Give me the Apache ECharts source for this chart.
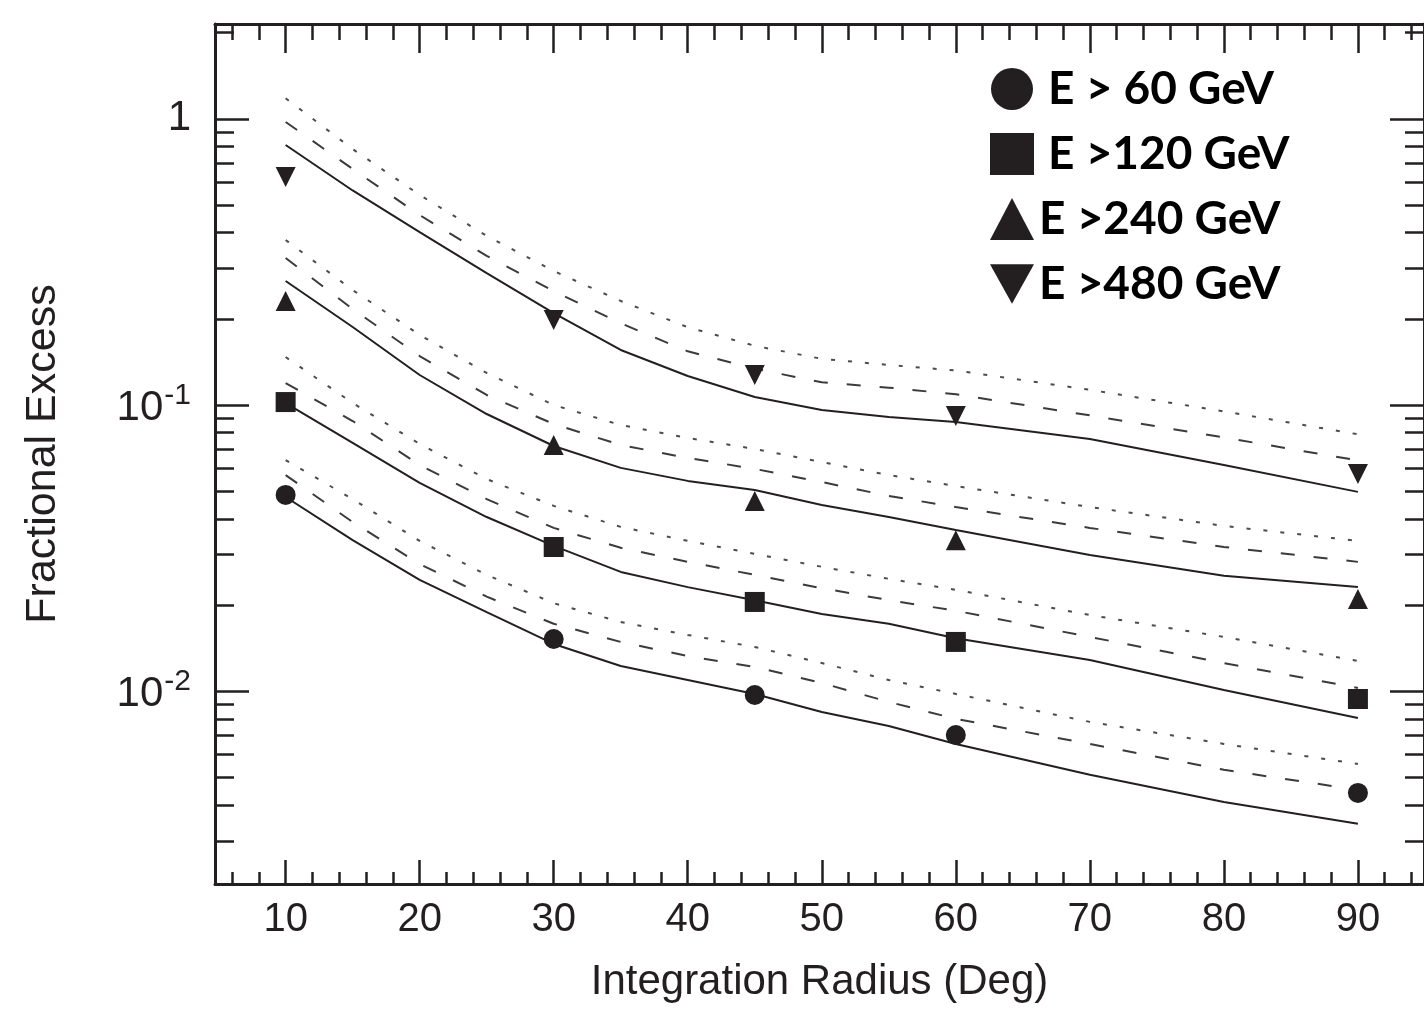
<!DOCTYPE html>
<html>
<head>
<meta charset="utf-8">
<script src="https://cdn.jsdelivr.net/npm/echarts@6/dist/echarts.min.js"></script>
<style>html,body{margin:0;padding:0;background:#fff}#c{width:1424px;height:1015px}</style>
</head>
<body>
<div id="c"></div>
<script>
// ---- data ----
const radiusModel = [10, 15, 20, 25, 30, 35, 40, 45, 50, 55, 60, 70, 80, 90];
const radiusMeasured = [10, 30, 45, 60, 90];

const seriesNames = ['E > 60 GeV', 'E >120 GeV', 'E >240 GeV', 'E >480 GeV'];

const pts60  = [0.0485, 0.01522, 0.00970, 0.00703, 0.00441];
const pts120 = [0.1024, 0.0319, 0.0205, 0.01486, 0.00939];
const pts240 = [0.2309, 0.0725, 0.0462, 0.0337, 0.0210];
const pts480 = [0.626, 0.1982, 0.1273, 0.0915, 0.0574];

const solid60  = [0.0477, 0.0337, 0.0245, 0.0189, 0.01462, 0.01225, 0.01094, 0.00978, 0.00846, 0.00756, 0.00654, 0.00510, 0.00410, 0.00344];
const dashed60 = [0.0569, 0.0390, 0.0278, 0.0214, 0.0172, 0.01486, 0.01327, 0.01215, 0.01068, 0.00917, 0.00800, 0.00654, 0.00531, 0.00452];
const dotted60 = [0.0642, 0.0469, 0.0335, 0.0255, 0.0203, 0.01745, 0.01572, 0.01427, 0.01254, 0.01094, 0.00978, 0.00781, 0.00654, 0.00557];

const solid120  = [0.1016, 0.0737, 0.0534, 0.0406, 0.0322, 0.0261, 0.0231, 0.0208, 0.0186, 0.0172, 0.0153, 0.01285, 0.01010, 0.00806];
const dashed120 = [0.1193, 0.0879, 0.0617, 0.0469, 0.0372, 0.0317, 0.0283, 0.0255, 0.0229, 0.0208, 0.0191, 0.01547, 0.01254, 0.01026];
const dotted120 = [0.1471, 0.1016, 0.0731, 0.0551, 0.0444, 0.0375, 0.0335, 0.0302, 0.0272, 0.0247, 0.0226, 0.01845, 0.01547, 0.01275];

const solid240  = [0.2713, 0.1873, 0.1273, 0.0930, 0.0719, 0.0603, 0.0543, 0.0505, 0.0447, 0.0406, 0.0366, 0.0299, 0.0253, 0.0231];
const dashed240 = [0.3264, 0.2165, 0.1483, 0.1084, 0.0858, 0.0725, 0.0653, 0.0598, 0.0538, 0.0481, 0.0440, 0.0372, 0.0319, 0.0283];
const dotted240 = [0.3772, 0.2522, 0.1757, 0.1294, 0.1000, 0.0851, 0.0767, 0.0702, 0.0632, 0.0569, 0.0521, 0.0440, 0.0378, 0.0335];

const solid480  = [0.810, 0.562, 0.402, 0.289, 0.2096, 0.1557, 0.1263, 0.1066, 0.0960, 0.0908, 0.0872, 0.0761, 0.0617, 0.0497];
const dashed480 = [0.975, 0.668, 0.461, 0.332, 0.250, 0.193, 0.154, 0.134, 0.120, 0.115, 0.109, 0.092, 0.077, 0.064];
const dotted480 = [1.18, 0.784, 0.542, 0.390, 0.294, 0.231, 0.187, 0.161, 0.145, 0.138, 0.132, 0.113, 0.095, 0.079];

// ---- ticks / labels ----
const xMajorTicks = [10, 20, 30, 40, 50, 60, 70, 80, 90];
const xMinorTicks = [6, 8, 12, 14, 16, 18, 22, 24, 26, 28, 32, 34, 36, 38, 42, 44, 46, 48, 52, 54, 56, 58, 62, 64, 66, 68, 72, 74, 76, 78, 82, 84, 86, 88, 92, 94];
const yMajorTicks = [0.01, 0.1, 1];
const yMajorLabels = ['{base|10}{sup|-2}', '{base|10}{sup|-1}', '1'];
const yMinorTicks = [0.003, 0.004, 0.005, 0.006, 0.007, 0.008, 0.009,
                     0.02, 0.03, 0.04, 0.05, 0.06, 0.07, 0.08, 0.09,
                     0.2, 0.3, 0.4, 0.5, 0.6, 0.7, 0.8, 0.9, 2];

const xTitle = 'Integration Radius (Deg)';
const yTitle = 'Fractional Excess';

// ---- styling ----
const ink = '#231f20';
const font = "'Liberation Sans', Arial, Helvetica, sans-serif";
const X_MIN = 4.73, X_MAX = 94.93, Y_MIN = 0.002119, Y_MAX = 2.145;
const gridRect = {left: 215, top: 24, width: 1215, height: 860};

const downTri = 'path://M0,0L20,0L10,18Z';
const symbols = ['circle', 'rect', 'triangle', downTri];
const pointSets = [pts60, pts120, pts240, pts480];
const modelSets = [
  [solid60, dashed60, dotted60],
  [solid120, dashed120, dotted120],
  [solid240, dashed240, dotted240],
  [solid480, dashed480, dotted480]
];
const lineStyles = [
  {color: ink, width: 2, type: 'solid'},
  {color: '#3c3a3b', width: 2, type: [14, 19]},
  {color: '#4d4b4c', width: 2, type: [4, 13]}
];

const series = [];
modelSets.forEach((set, g) => {
  set.forEach((vals, k) => {
    series.push({
      type: 'line',
      name: seriesNames[g] + ' model ' + k,
      xAxisIndex: 0, yAxisIndex: 0,
      data: radiusModel.map((x, i) => [x, vals[i]]),
      showSymbol: false, symbol: 'none',
      smooth: false,
      lineStyle: lineStyles[k],
      silent: true, z: 2
    });
  });
});
pointSets.forEach((vals, g) => {
  series.push({
    type: 'scatter',
    name: seriesNames[g],
    xAxisIndex: 0, yAxisIndex: 0,
    data: radiusMeasured.map((x, i) => [x, vals[i]]),
    symbol: symbols[g],
    symbolSize: 20,
    itemStyle: {color: ink, opacity: 1},
    z: 5
  });
});

function xAx(grid, pos, ticks, len, opts) {
  return Object.assign({
    type: 'value', gridIndex: grid, position: pos, min: X_MIN, max: X_MAX,
    axisLine: {show: false},
    axisTick: {show: true, inside: true, length: len, customValues: ticks, lineStyle: {color: ink, width: 2.5}},
    axisLabel: {show: false},
    splitLine: {show: false}
  }, opts || {});
}
function yAx(grid, pos, ticks, len, opts) {
  return Object.assign({
    type: 'log', logBase: 10, gridIndex: grid, position: pos, min: Y_MIN, max: Y_MAX,
    axisLine: {show: false},
    axisTick: {show: true, inside: true, length: len, customValues: ticks, lineStyle: {color: ink, width: 2.5}},
    axisLabel: {show: false},
    splitLine: {show: false}
  }, opts || {});
}
const axisLineOn = {show: true, lineStyle: {color: ink, width: 3}};

const option = {
  animation: false,
  backgroundColor: '#fff',
  grid: [Object.assign({}, gridRect), Object.assign({}, gridRect)],
  xAxis: [
    xAx(0, 'bottom', xMajorTicks, 24, {
      axisLine: axisLineOn,
      axisLabel: {show: true, customValues: xMajorTicks, fontSize: 40, fontFamily: font, color: ink, margin: 16},
      name: xTitle, nameLocation: 'middle', nameGap: 77,
      nameTextStyle: {fontSize: 42, fontFamily: font, color: ink}
    }),
    xAx(0, 'top', xMajorTicks, 29, {axisLine: axisLineOn}),
    xAx(1, 'bottom', xMinorTicks, 12),
    xAx(1, 'top', xMinorTicks, 16)
  ],
  yAxis: [
    yAx(0, 'left', yMajorTicks, 34, {
      axisLine: axisLineOn,
      axisLabel: {
        show: true, customValues: yMajorTicks, margin: 24,
        fontSize: 42, fontFamily: font, color: ink,
        formatter: v => {
          const i = yMajorTicks.findIndex(t => Math.abs(t - v) / t < 1e-6);
          return i >= 0 ? yMajorLabels[i] : '';
        },
        rich: {
          base: {fontSize: 42, fontFamily: font, color: ink, verticalAlign: 'bottom', padding: [7, 0, 0, 0]},
          sup: {fontSize: 30, fontFamily: font, color: ink, verticalAlign: 'top', lineHeight: 30, padding: [0, 0, 0, 1]}
        }
      },
      name: yTitle, nameLocation: 'middle', nameGap: 150, nameRotate: 90,
      nameTextStyle: {fontSize: 43, fontFamily: font, color: ink}
    }),
    yAx(0, 'right', yMajorTicks, 34, {axisLine: axisLineOn}),
    yAx(1, 'left', yMinorTicks, 19),
    yAx(1, 'right', yMinorTicks, 19)
  ],
  legend: {
    orient: 'vertical', left: 985, top: 61,
    itemWidth: 44, itemHeight: 42, itemGap: 19,
    selectedMode: false,
    textStyle: {fontFamily: "Lato, 'Open Sans', sans-serif", fontWeight: 'bold', fontSize: 46, lineHeight: 44, color: '#000'},
    data: [
      {name: seriesNames[0], icon: 'circle', textStyle: {padding: [0, 0, 0, 9]}},
      {name: seriesNames[1], icon: 'rect', textStyle: {padding: [0, 0, 0, 9]}},
      {name: seriesNames[2], icon: 'triangle'},
      {name: seriesNames[3], icon: downTri}
    ]
  },
  series: series
};

const chart = echarts.init(document.getElementById('c'), null, {renderer: 'canvas'});
chart.setOption(option);
</script>
</body>
</html>
